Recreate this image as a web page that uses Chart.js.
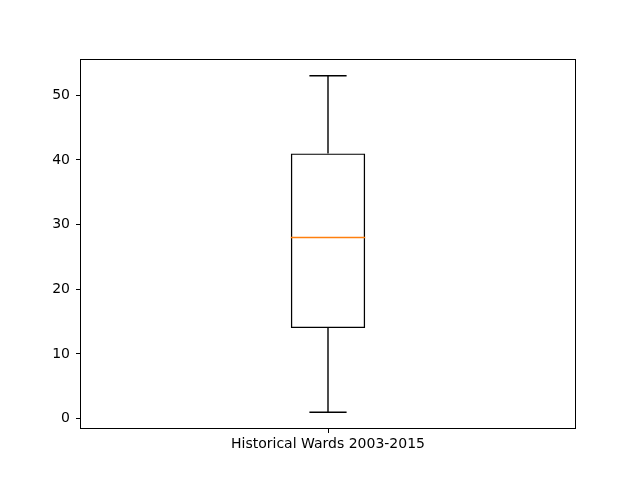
<!DOCTYPE html>
<html>
<head>
<meta charset="utf-8">
<script src="https://cdn.jsdelivr.net/npm/chart.js@4/dist/chart.umd.min.js"></script>
<style>
html,body{margin:0;padding:0;background:#fff;}
#wrap{width:640px;height:480px;}
</style>
</head>
<body>
<div id="wrap"><canvas id="c" width="640" height="480"></canvas></div>
<script>
const categories = ['Historical Wards 2003-2015'];
const q1 = [14];
const median = [28];
const q3 = [41];
const whiskerLow = [1];
const whiskerHigh = [53];
const yTicks = [0, 10, 20, 30, 40, 50];
const yMin = -1.6, yMax = 55.6;

const boxPlugin = {
  id: 'boxExtras',
  afterDatasetsDraw(chart) {
    const ctx = chart.ctx;
    const ys = chart.scales.y;
    const meta = chart.getDatasetMeta(0);
    ctx.save();
    meta.data.forEach((bar, i) => {
      const cx = bar.x;
      const half = bar.width / 2;
      const capHalf = half / 2;
      const px = v => ys.getPixelForValue(v);
      ctx.lineWidth = 1.4;
      ctx.strokeStyle = '#000';
      ctx.beginPath();
      ctx.moveTo(cx, px(q1[i])); ctx.lineTo(cx, px(whiskerLow[i]));
      ctx.moveTo(cx - capHalf, px(whiskerLow[i])); ctx.lineTo(cx + capHalf, px(whiskerLow[i]));
      ctx.moveTo(cx, px(q3[i])); ctx.lineTo(cx, px(whiskerHigh[i]));
      ctx.moveTo(cx - capHalf, px(whiskerHigh[i])); ctx.lineTo(cx + capHalf, px(whiskerHigh[i]));
      ctx.stroke();
      ctx.strokeStyle = '#ff7f0e';
      ctx.beginPath();
      ctx.moveTo(cx - half, px(median[i])); ctx.lineTo(cx + half, px(median[i]));
      ctx.stroke();
    });
    const a = chart.chartArea;
    ctx.strokeStyle = '#000';
    ctx.lineWidth = 1;
    ctx.strokeRect(Math.round(a.left) + 0.5, Math.round(a.top) + 0.5, Math.round(a.right - a.left) - 1, Math.round(a.bottom - a.top) - 1);
    ctx.restore();
  }
};

new Chart(document.getElementById('c'), {
  type: 'bar',
  data: {
    labels: categories,
    datasets: [{
      data: categories.map((_, i) => [q1[i], q3[i]]),
      backgroundColor: 'rgba(0,0,0,0)',
      borderColor: '#000',
      borderWidth: 1.4,
      borderSkipped: false,
      barPercentage: 0.15,
      categoryPercentage: 1.0
    }]
  },
  options: {
    responsive: false,
    animation: false,
    layout: { padding: { left: 0, top: 59, right: 64, bottom: 0 } },
    plugins: { legend: { display: false }, tooltip: { enabled: false } },
    scales: {
      x: {
        grid: { display: true, offset: false, drawOnChartArea: false, drawTicks: true, tickLength: 4, color: '#000', tickColor: '#000' },
        border: { display: false },
        ticks: { color: '#000', font: { family: 'DejaVu Sans', size: 14 }, padding: 3, maxRotation: 0 },
        afterFit(s) { s.height = 51; }
      },
      y: {
        min: yMin, max: yMax,
        grid: { display: true, drawOnChartArea: false, drawTicks: true, tickLength: 4, color: '#000', tickColor: '#000' },
        border: { display: false },
        ticks: { color: '#000', font: { family: 'DejaVu Sans', size: 14 }, padding: 6 },
        afterBuildTicks(s) { s.ticks = yTicks.map(v => ({ value: v })); },
        afterFit(s) { s.width = 80; }
      }
    }
  },
  plugins: [boxPlugin]
});
</script>
</body>
</html>
